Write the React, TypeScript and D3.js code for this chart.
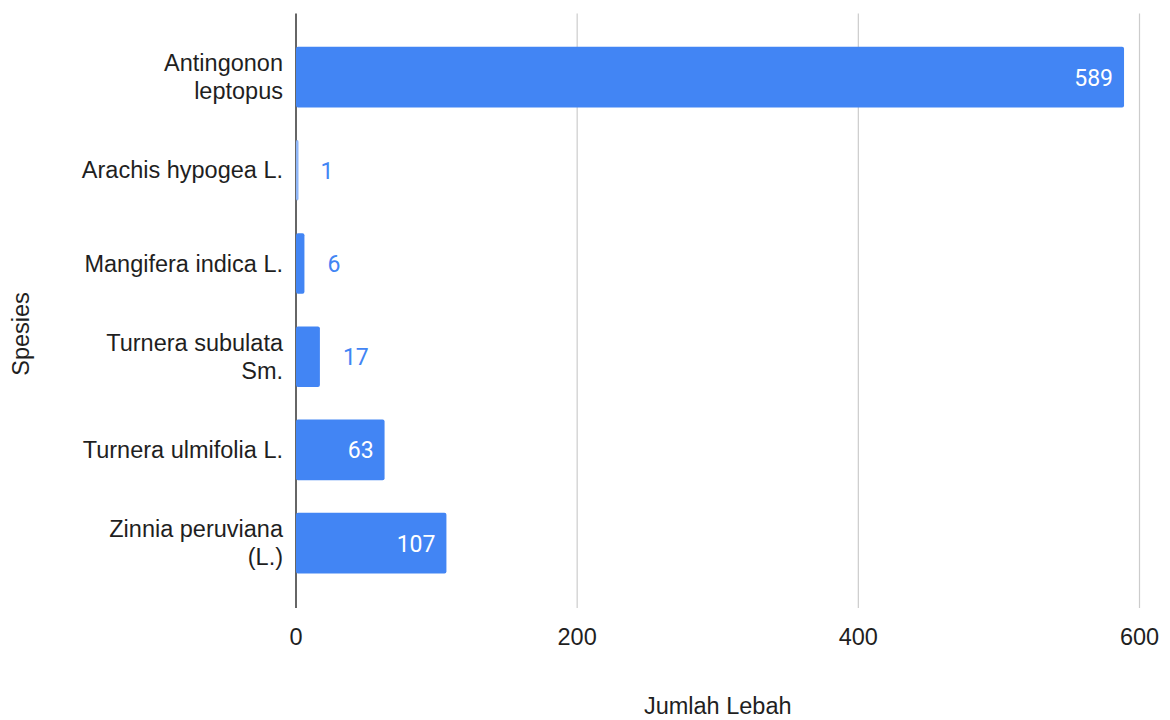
import React from "react";
import * as d3 from "d3";

const categories: string[][] = [
  ["Antingonon", "leptopus"],
  ["Arachis hypogea L."],
  ["Mangifera indica L."],
  ["Turnera subulata", "Sm."],
  ["Turnera ulmifolia L."],
  ["Zinnia peruviana", "(L.)"],
];
const values: number[] = [589, 1, 6, 17, 63, 107];
const xTicks: number[] = [0, 200, 400, 600];
const xTitle = "Jumlah Lebah";
const yTitle = "Spesies";

const W = 1170;
const H = 720;
const left = 296;
const right = 1139.5;
const top = 13.5;
const bottom = 608;
const BLUE = "#4285f4";
const LABEL_FONT = "'Liberation Sans', Arial, sans-serif";
const VALUE_FONT = "Roboto, 'Liberation Sans', sans-serif";

export default function App() {
  const x = d3.scaleLinear().domain([0, 600]).range([left, right]);
  const idx = categories.map((_, i) => String(i));
  const y = d3
    .scaleBand<string>()
    .domain(idx)
    .range([30.5, 589.7])
    .paddingInner(0.35)
    .paddingOuter(0.175);
  const bw = y.bandwidth();

  return (
    <svg
      width={W}
      height={H}
      style={{ position: "absolute", left: 0, top: 0, background: "#fff" }}
    >
      {xTicks.map((t) =>
        t === 0 ? null : (
          <line key={"g" + t} x1={x(t)} x2={x(t)} y1={top} y2={bottom} stroke="#cccccc" strokeWidth={1.2} />
        )
      )}
      <line x1={x(0)} x2={x(0)} y1={top} y2={bottom} stroke="#666" strokeWidth={2} />
      {values.map((v, i) => {
        const y0 = y(String(i))!;
        const w = x(v) - x(0);
        return (
          <rect
            key={"b" + i}
            x={x(0)}
            y={y0}
            width={Math.max(w, 2.5)}
            height={bw}
            rx={2}
            fill={v <= 1 ? "#8fb6f8" : BLUE}
          />
        );
      })}
      {values.map((v, i) => {
        const cy = y(String(i))! + bw / 2;
        const w = x(v) - x(0);
        const inside = w > 70;
        return (
          <text
            key={"v" + i}
            x={inside ? x(v) - 11 : x(v) + 23}
            y={cy + 8.5}
            textAnchor={inside ? "end" : "start"}
            fontFamily={VALUE_FONT}
            fontSize={23}
            fill={inside ? "#ffffff" : BLUE}
          >
            {v}
          </text>
        );
      })}
      {categories.map((lines, i) => {
        const cy = y(String(i))! + bw / 2;
        const lh = 28;
        const first = cy - ((lines.length - 1) * lh) / 2 + 8;
        return (
          <text
            key={"c" + i}
            textAnchor="end"
            fontFamily={LABEL_FONT}
            fontSize={23.5}
            fill="#1f1f1f"
          >
            {lines.map((ln, j) => (
              <tspan key={j} x={283} y={first + j * lh}>
                {ln}
              </tspan>
            ))}
          </text>
        );
      })}
      {xTicks.map((t) => (
        <text
          key={"t" + t}
          x={x(t)}
          y={645}
          textAnchor="middle"
          fontFamily={LABEL_FONT}
          fontSize={23.5}
          fill="#1f1f1f"
        >
          {t}
        </text>
      ))}
      <text
        x={(left + right) / 2}
        y={714}
        textAnchor="middle"
        fontFamily={LABEL_FONT}
        fontSize={23.5}
        fill="#1f1f1f"
      >
        {xTitle}
      </text>
      <text
        transform={`translate(29,334) rotate(-90)`}
        textAnchor="middle"
        fontFamily={LABEL_FONT}
        fontSize={23.5}
        fill="#1f1f1f"
      >
        {yTitle}
      </text>
    </svg>
  );
}
